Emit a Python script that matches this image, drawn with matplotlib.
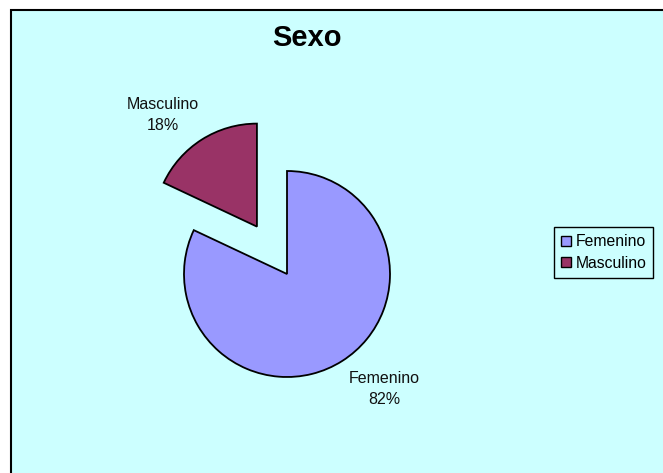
import matplotlib
matplotlib.use("Agg")
import matplotlib.pyplot as plt
from matplotlib.patches import Rectangle, Patch

categories = ["Femenino", "Masculino"]
values = [82, 18]
pct_labels = ["82%", "18%"]
colors = ["#9999FF", "#993366"]
explode = [0.0, 0.545]
title = "Sexo"

plt.rcParams['font.family'] = ['Liberation Sans', 'DejaVu Sans']

W, H = 663, 473
fig = plt.figure(figsize=(W / 100, H / 100), dpi=100)
fig.patch.set_facecolor("white")
bg = Rectangle((11 / W, -0.02), 1.2, 1 - 10 / H + 0.02, transform=fig.transFigure,
               facecolor="#CCFFFF", edgecolor="black", lw=1.5, zorder=-5)
fig.patches.append(bg)

# pie centre at (287, 274) px from top-left, radius 103 px
cx, cy, r = 287, H - 274, 103
hw, hh = 200, 190
ax = fig.add_axes([(cx - hw) / W, (cy - hh) / H, 2 * hw / W, 2 * hh / H])
ax.set_zorder(2)
ax.set_facecolor("none")
ax.patch.set_alpha(0)
wedges, _ = ax.pie(values, colors=colors, explode=explode, startangle=90,
                   counterclock=False, radius=1.0,
                   wedgeprops=dict(edgecolor="black", linewidth=1.3))
ax.set_xlim(-hw / r, hw / r)
ax.set_ylim(-hh / r, hh / r)
ax.set_aspect("auto")
ax.axis("off")

label_pos = {"Femenino": ((384 - 287) / r, -(389 - 274) / r),
             "Masculino": ((162.5 - 287) / r, -(115 - 274) / r)}
for cat, p in zip(categories, pct_labels):
    x, y = label_pos[cat]
    ax.text(x, y, f"{cat}\n{p}", ha="center", va="center", fontsize=11.5,
            linespacing=1.55, color="#111111")

fig.text(307 / W, 1 - 38 / H, title, ha="center", va="center",
         fontsize=21, fontweight="bold", zorder=3)

handles = [Patch(facecolor=c, edgecolor="black", lw=1.0) for c in colors]
leg = fig.legend(handles, categories, loc="center left",
                 bbox_to_anchor=(554 / W, 1 - 252.5 / H), fontsize=11.3,
                 frameon=True, fancybox=False, edgecolor="black",
                 facecolor="#CCFFFF", framealpha=1, handlelength=0.62,
                 handleheight=0.62, handletextpad=0.3, labelspacing=0.4,
                 borderpad=0.45, borderaxespad=0)
leg.get_frame().set_linewidth(1.0)
leg.set_zorder(3)

fig.savefig("out.png", dpi=100)
